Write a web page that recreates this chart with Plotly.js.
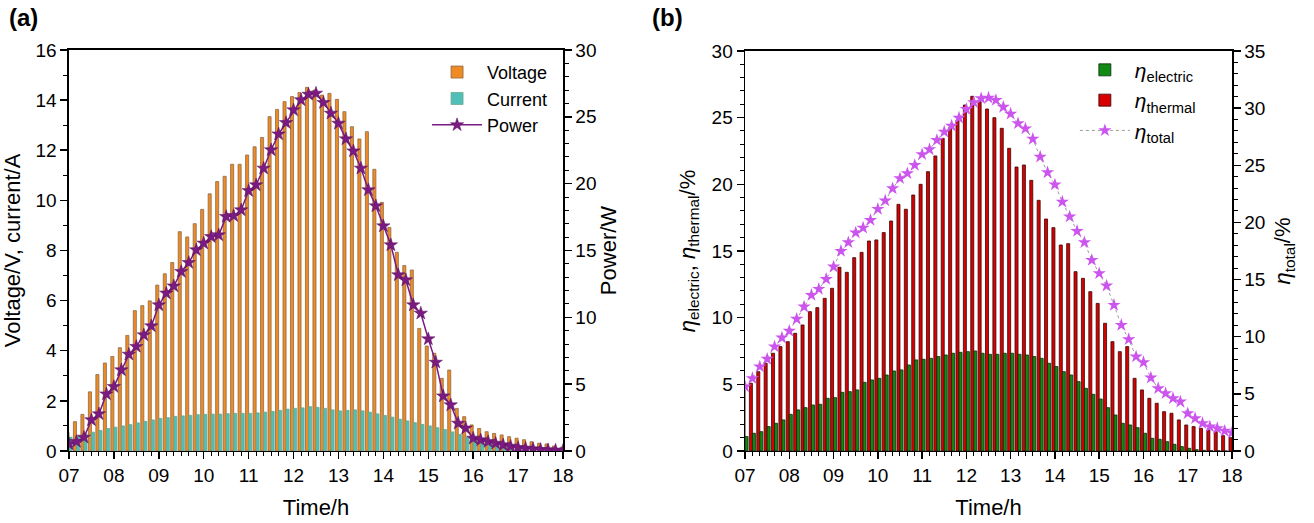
<!DOCTYPE html>
<html>
<head>
<meta charset="utf-8">
<script src="https://cdn.plot.ly/plotly-3.0.1.min.js"></script>
<style>
  html, body { margin: 0; padding: 0; background: #fff; }
  #chart { width: 1314px; height: 523px; }
</style>
</head>
<body>
<div id="chart"></div>
<script>
// Time stamps (every 10 min, 07:00 – 18:00)
const timeLabels = [
  "07:00","07:10","07:20","07:30","07:40","07:50",
  "08:00","08:10","08:20","08:30","08:40","08:50",
  "09:00","09:10","09:20","09:30","09:40","09:50",
  "10:00","10:10","10:20","10:30","10:40","10:50",
  "11:00","11:10","11:20","11:30","11:40","11:50",
  "12:00","12:10","12:20","12:30","12:40","12:50",
  "13:00","13:10","13:20","13:30","13:40","13:50",
  "14:00","14:10","14:20","14:30","14:40","14:50",
  "15:00","15:10","15:20","15:30","15:40","15:50",
  "16:00","16:10","16:20","16:30","16:40","16:50",
  "17:00","17:10","17:20","17:30","17:40","17:50",
  "18:00"
];
const hourTickLabels = ["07","08","09","10","11","12","13","14","15","16","17","18"];

// Panel (a)
const voltage = [0.75,1.17,1.46,2.36,3.05,3.51,3.77,4.12,4.61,5.60,5.80,5.99,6.62,7.07,7.52,8.75,8.54,9.07,9.64,10.26,
  10.75,10.96,11.44,11.44,11.81,12.14,12.51,13.34,13.63,13.94,14.14,14.30,14.51,14.40,14.20,14.27,14.03,13.54,12.94,12.45,
  12.74,11.24,9.92,8.92,7.93,7.40,7.22,4.89,4.19,3.90,2.90,3.23,1.70,1.37,1.04,0.90,0.77,0.70,0.64,0.57,
  0.51,0.45,0.37,0.31,0.28,0.20,0.15];
const current = [0.55,0.60,0.68,0.75,0.82,0.90,0.95,1.00,1.05,1.12,1.18,1.24,1.30,1.33,1.38,1.40,1.42,1.45,1.46,1.47,
  1.47,1.49,1.50,1.50,1.50,1.52,1.55,1.58,1.62,1.67,1.70,1.72,1.77,1.74,1.70,1.64,1.60,1.62,1.64,1.60,
  1.55,1.48,1.42,1.35,1.27,1.20,1.13,1.06,1.00,0.93,0.86,0.76,0.66,0.54,0.46,0.40,0.33,0.26,0.20,0.16,
  0.12,0.10,0.08,0.06,0.05,0.04,0.03];
const power = [0.52,0.70,1.02,2.32,2.77,4.26,4.81,6.06,7.23,7.81,8.68,9.35,10.92,11.80,12.34,13.42,14.09,15.04,15.54,16.03,
  16.16,17.53,17.60,18.03,19.47,19.90,21.15,22.52,23.71,24.56,25.51,26.26,26.68,26.76,26.06,25.26,24.51,23.34,22.44,21.15,
  19.53,18.33,16.83,15.41,13.17,12.79,10.92,10.30,8.38,6.63,4.11,3.44,2.07,1.70,0.95,0.82,0.70,0.57,0.45,0.35,
  0.25,0.20,0.15,0.10,0.08,0.05,0.03];

// Panel (b)
const etaElectric = [1.08,1.33,1.45,1.83,2.08,2.33,2.75,3.08,3.25,3.45,3.50,3.95,4.00,4.40,4.45,4.58,5.15,5.33,5.45,5.70,
  6.00,6.08,6.45,6.83,6.88,6.95,7.08,7.20,7.33,7.40,7.45,7.50,7.33,7.25,7.25,7.33,7.33,7.25,7.20,7.08,
  6.95,6.58,6.33,5.95,5.70,5.20,4.70,4.25,3.90,3.25,2.70,2.08,1.95,1.75,1.33,0.95,0.88,0.70,0.50,0.33,
  0.20,0.10,0.05,0.03,0.02,0.00,0.00];
const etaThermal = [4.58,5.08,5.95,6.58,7.33,7.83,8.20,8.83,9.45,10.45,10.75,11.45,12.20,13.78,13.40,14.50,14.90,15.75,15.83,16.38,
  17.25,18.50,18.13,19.20,20.00,20.95,22.13,23.45,24.25,24.83,25.95,26.60,26.20,25.65,25.00,24.20,22.70,21.30,21.45,20.30,
  18.80,17.40,16.75,15.45,15.55,13.45,12.95,11.95,11.07,9.58,8.20,7.45,7.83,5.45,4.58,3.95,3.58,2.95,2.83,2.33,
  1.95,1.83,1.70,1.58,1.45,1.15,1.00];
const etaTotal = [5.63,6.36,7.38,8.05,9.13,9.91,10.50,11.55,12.62,13.64,14.17,15.04,16.12,17.49,18.25,19.10,19.53,20.20,21.17,21.90,
  22.97,23.85,24.29,25.01,25.95,26.38,27.20,27.93,28.45,29.15,29.90,30.50,30.85,30.90,30.70,30.10,29.50,28.66,28.20,27.30,
  25.74,24.37,23.30,21.80,20.50,19.24,18.25,16.70,15.54,14.46,12.77,11.02,9.77,8.25,7.76,6.41,5.48,5.04,4.61,4.31,
  3.29,2.86,2.42,2.13,1.98,1.75,1.60];

const hours = timeLabels.map(s => { const [h, m] = s.split(":").map(Number); return h + m / 60; });
const hourTicks = hourTickLabels.map(Number);

const FONT = "Liberation Sans, Arial, Helvetica, sans-serif";

const traces = [
  { type: "bar", name: "Voltage", x: hours, y: voltage, xaxis: "x", yaxis: "y",
    marker: { color: "#f08a24", line: { color: "#8c6a45", width: 0.8 } }, legend: "legend", legendrank: 1 },
  { type: "bar", name: "Current", x: hours, y: current, xaxis: "x", yaxis: "y",
    marker: { color: "#4fbfb8", line: { color: "#6aa88a", width: 0.8 } }, legend: "legend", legendrank: 2 },
  { type: "scatter", mode: "lines+markers", name: "Power", x: hours, y: power, xaxis: "x", yaxis: "y2",
    line: { color: "#7a1a82", width: 1.5 },
    marker: { symbol: "star", size: 10, color: "#7a1a82", line: { color: "#5a0f60", width: 0.5 } },
    legend: "legend", legendrank: 3 },

  { type: "bar", name: "<i>η</i><sub>thermal</sub>", x: hours, y: etaThermal, xaxis: "x2", yaxis: "y3",
    marker: { color: "#d80000", line: { color: "#3a0505", width: 0.8 } }, legend: "legend2", legendrank: 2 },
  { type: "bar", name: "<i>η</i><sub>electric</sub>", x: hours, y: etaElectric, xaxis: "x2", yaxis: "y3",
    marker: { color: "#118a11", line: { color: "#0a2a0a", width: 0.8 } }, legend: "legend2", legendrank: 1 },
  { type: "scatter", mode: "lines+markers", name: "<i>η</i><sub>total</sub>", x: hours, y: etaTotal, xaxis: "x2", yaxis: "y4",
    line: { color: "#9a9a9a", width: 1, dash: "dot" },
    marker: { symbol: "star", size: 10, color: "#cc55ee", line: { width: 0 } },
    legend: "legend2", legendrank: 3 }
];

function xAxis(domain, anchor) {
  return {
    domain: domain, anchor: anchor, range: [7, 18],
    tickvals: hourTicks, ticktext: hourTickLabels,
    ticks: "outside", ticklen: 7, tickwidth: 1.5, tickcolor: "#000",
    minor: { tick0: 7, dtick: 1 / 6, ticks: "outside", ticklen: 4, tickwidth: 1, tickcolor: "#000" },
    showline: true, linewidth: 1.5, linecolor: "#000", mirror: true,
    showgrid: false, zeroline: false,
    tickfont: { family: FONT, size: 19, color: "#000" },
    title: { text: "Time/h", font: { family: FONT, size: 22, color: "#000" }, standoff: 14 },
    automargin: false
  };
}
function yAxis(domain, anchor, range, dtick, title, side, overlay, standoff) {
  const a = {
    domain: domain, anchor: anchor, range: range, dtick: dtick, tick0: 0,
    ticks: "outside", ticklen: 7, tickwidth: 1.5, tickcolor: "#000",
    minor: { dtick: 1, ticks: "outside", ticklen: 4, tickwidth: 1, tickcolor: "#000" },
    showline: true, linewidth: 1.5, linecolor: "#000",
    showgrid: false, zeroline: false,
    tickfont: { family: FONT, size: 19, color: "#000" },
    title: { text: title, font: { family: FONT, size: 22, color: "#000" }, standoff: standoff },
    side: side, automargin: false
  };
  if (overlay) a.overlaying = overlay;
  return a;
}

const layout = {
  width: 1314, height: 523,
  margin: { l: 0, r: 0, t: 0, b: 0 },
  paper_bgcolor: "#fff", plot_bgcolor: "#fff",
  barmode: "group", bargap: 0.18, bargroupgap: 0,
  font: { family: FONT, color: "#000" },
  xaxis: xAxis([0.0525, 0.4285], "y"),
  yaxis: yAxis([0.1377, 0.9044], "x", [0, 16], 2, "Voltage/V, current/A", "left", null, 12),
  yaxis2: yAxis([0.1377, 0.9044], "x", [0, 30], 5, "Power/W", "right", "y", 2),
  xaxis2: xAxis([0.567, 0.9376], "y3"),
  yaxis3: yAxis([0.1377, 0.9025], "x2", [0, 30], 5, "<i>η</i><sub>electric</sub>, <i>η</i><sub>thermal</sub>/%", "left", null, 10),
  yaxis4: yAxis([0.1377, 0.9025], "x2", [0, 35], 5, "<i>η</i><sub>total</sub>/%", "right", "y3", 10),
  legend: {
    x: 0.325, y: 0.897, xanchor: "left", yanchor: "top",
    bgcolor: "rgba(0,0,0,0)", font: { family: FONT, size: 18, color: "#000" },
    itemwidth: 50, tracegroupgap: 0
  },
  legend2: {
    x: 0.818, y: 0.905, xanchor: "left", yanchor: "top",
    bgcolor: "rgba(0,0,0,0)", font: { family: FONT, size: 21, color: "#000" },
    itemwidth: 50, tracegroupgap: 0
  },
  showlegend: true,
  annotations: [
    { text: "<b>(a)</b>", xref: "paper", yref: "paper", x: 0.005, y: 0.997, xanchor: "left", yanchor: "top",
      showarrow: false, font: { family: FONT, size: 24, color: "#000" } },
    { text: "<b>(b)</b>", xref: "paper", yref: "paper", x: 0.495, y: 0.997, xanchor: "left", yanchor: "top",
      showarrow: false, font: { family: FONT, size: 24, color: "#000" } }
  ]
};

Plotly.newPlot("chart", traces, layout, { staticPlot: true, displayModeBar: false });
</script>
</body>
</html>
